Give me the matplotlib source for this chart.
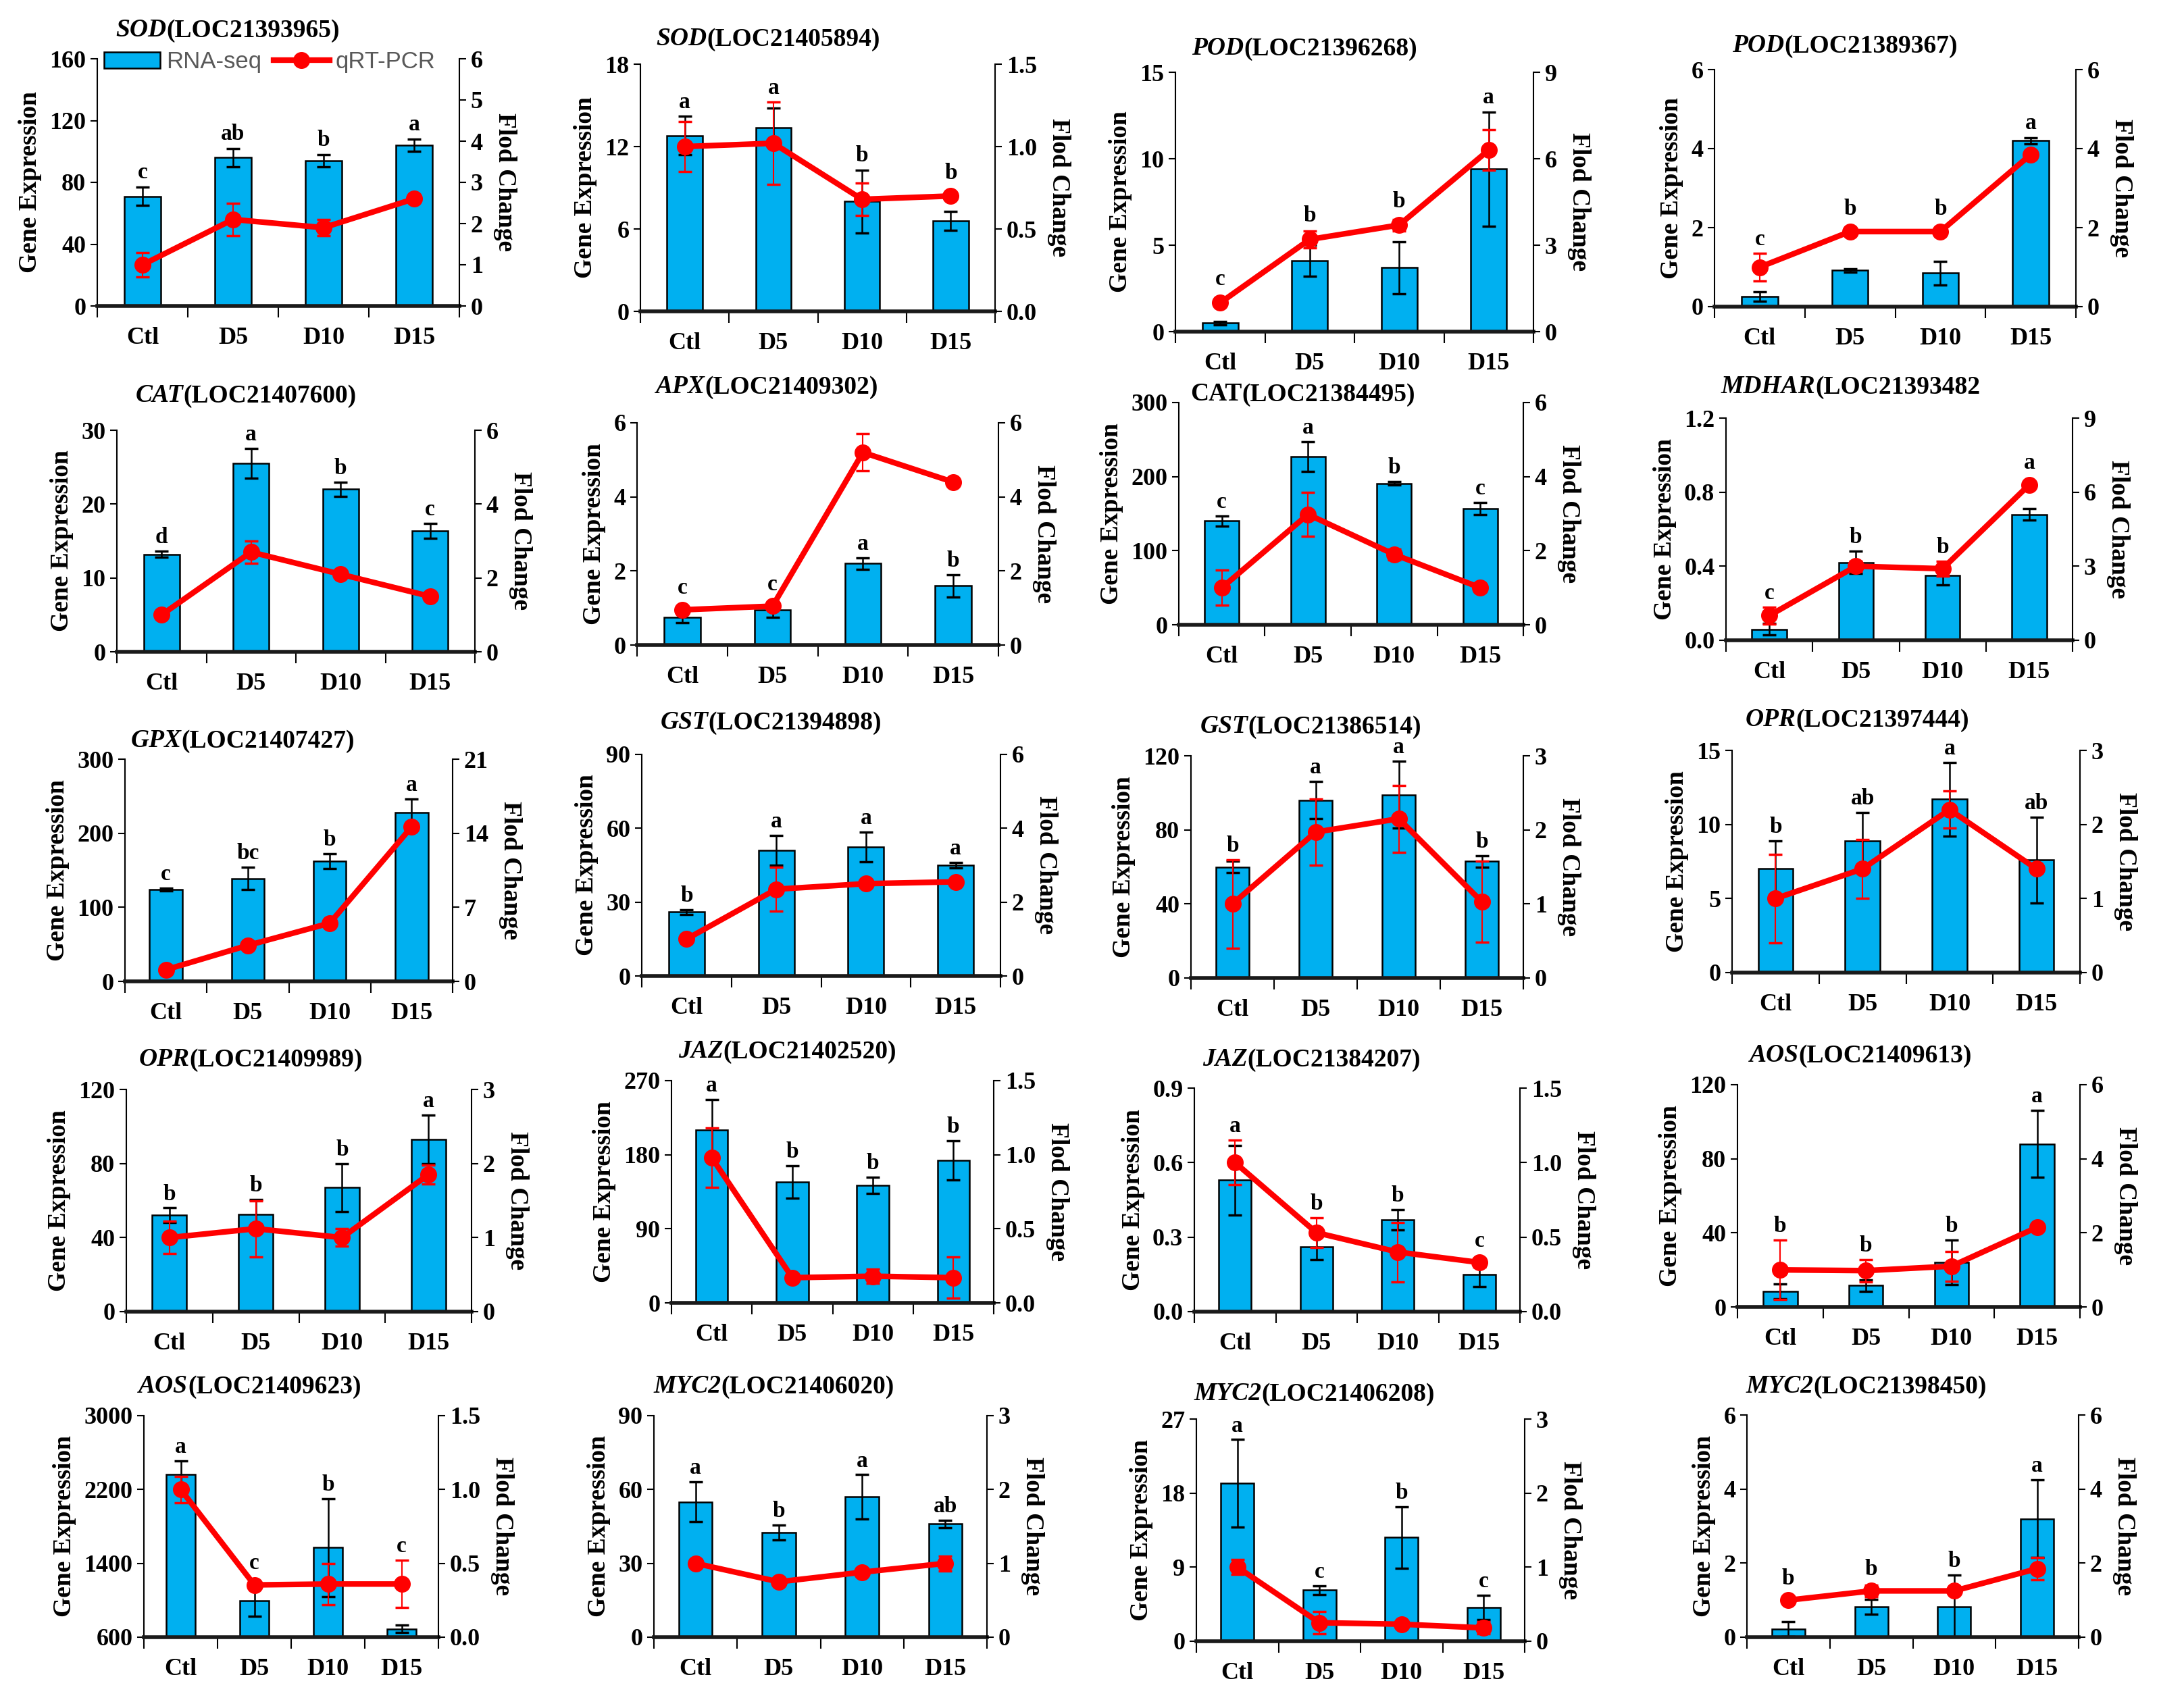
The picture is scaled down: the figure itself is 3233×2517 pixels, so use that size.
import numpy as np
import matplotlib.pyplot as plt
from matplotlib.patches import Patch
from matplotlib.lines import Line2D
from matplotlib.offsetbox import TextArea, HPacker, AnchoredOffsetbox

plt.rcParams['font.family'] = ['Liberation Serif', 'DejaVu Serif']
plt.rcParams['font.weight'] = 'bold'

groups = ['Ctl', 'D5', 'D10', 'D15']

genes = ['SOD', 'SOD', 'POD', 'POD',
         'CAT', 'APX', 'CAT', 'MDHAR',
         'GPX', 'GST', 'GST', 'OPR',
         'OPR', 'JAZ', 'JAZ', 'AOS',
         'AOS', 'MYC2', 'MYC2', 'MYC2']
locs = ['(LOC21393965)', '(LOC21405894)', '(LOC21396268)', '(LOC21389367)',
        '(LOC21407600)', '(LOC21409302)', '(LOC21384495)', '(LOC21393482',
        '(LOC21407427)', '(LOC21394898)', '(LOC21386514)', '(LOC21397444)',
        '(LOC21409989)', '(LOC21402520)', '(LOC21384207)', '(LOC21409613)',
        '(LOC21409623)', '(LOC21406020)', '(LOC21406208)', '(LOC21398450)']
gene_italic = [True] * 20
gene_italic[6] = False

left_min = [0] * 20
left_min[16] = 600
left_max = [160, 18, 15, 6, 30, 6, 300, 1.2, 300, 90, 120, 15,
            120, 270, 0.9, 120, 3000, 90, 27, 6]
left_step = [40, 6, 5, 2, 10, 2, 100, 0.4, 100, 30, 40, 5,
             40, 90, 0.3, 40, 800, 30, 9, 2]
left_dec = [0, 0, 0, 0, 0, 0, 0, 1, 0, 0, 0, 0,
            0, 0, 1, 0, 0, 0, 0, 0]
right_max = [6, 1.5, 9, 6, 6, 6, 6, 9, 21, 6, 3, 3,
             3, 1.5, 1.5, 6, 1.5, 3, 3, 6]
right_step = [1, 0.5, 3, 2, 2, 2, 2, 3, 7, 2, 1, 1,
              1, 0.5, 0.5, 2, 0.5, 1, 1, 2]
right_dec = [0, 1, 0, 0, 0, 0, 0, 0, 0, 0, 0, 0,
             0, 1, 1, 0, 1, 0, 0, 0]

rna_seq = [
    [71, 96, 94, 104], [12.8, 13.4, 8.0, 6.6], [0.5, 4.1, 3.7, 9.4], [0.25, 0.92, 0.85, 4.2],
    [13.2, 25.5, 22.0, 16.4], [0.75, 0.95, 2.2, 1.6], [140, 227, 191, 157], [0.06, 0.42, 0.35, 0.68],
    [124, 139, 162, 228], [26, 51, 52.5, 45], [60, 96, 99, 63], [7.0, 8.9, 11.7, 7.6],
    [52, 52.5, 67, 93], [210, 147, 143, 173], [0.53, 0.26, 0.37, 0.15], [8.5, 11.5, 24, 88],
    [2360, 995, 1570, 690], [55, 42.5, 57, 46], [19.2, 6.2, 12.6, 4.1], [0.22, 0.82, 0.82, 3.2],
]
rna_err = [
    [6, 6, 4, 4], [1.4, 1.4, 2.3, 0.7], [0.1, 0.9, 1.5, 3.3], [0.12, 0.04, 0.3, 0.08],
    [0.4, 2.0, 1.0, 1.0], [0.15, 0.2, 0.15, 0.3], [7, 20, 2, 8], [0.03, 0.06, 0.05, 0.03],
    [2, 15, 10, 18], [1, 6, 6, 1], [3, 10, 18, 3], [1.9, 1.9, 2.5, 2.9],
    [4, 8, 13, 13], [37, 20, 10, 24], [0.14, 0.05, 0.04, 0.05], [4, 3, 12, 18],
    [150, 170, 530, 40], [8, 3, 9, 1.5], [5.3, 0.5, 3.7, 1.5], [0.2, 0.2, 0.85, 1.05],
]
letters = [
    ['c', 'ab', 'b', 'a'], ['a', 'a', 'b', 'b'], ['c', 'b', 'b', 'a'], ['c', 'b', 'b', 'a'],
    ['d', 'a', 'b', 'c'], ['c', 'c', 'a', 'b'], ['c', 'a', 'b', 'c'], ['c', 'b', 'b', 'a'],
    ['c', 'bc', 'b', 'a'], ['b', 'a', 'a', 'a'], ['b', 'a', 'a', 'b'], ['b', 'ab', 'a', 'ab'],
    ['b', 'b', 'b', 'a'], ['a', 'b', 'b', 'b'], ['a', 'b', 'b', 'c'], ['b', 'b', 'b', 'a'],
    ['a', 'c', 'b', 'c'], ['a', 'b', 'a', 'ab'], ['a', 'c', 'b', 'c'], ['b', 'b', 'b', 'a'],
]
qpcr = [
    [1.0, 2.1, 1.9, 2.6], [1.0, 1.02, 0.68, 0.70], [1.0, 3.2, 3.7, 6.3], [1.0, 1.9, 1.9, 3.85],
    [1.0, 2.7, 2.1, 1.5], [0.95, 1.05, 5.2, 4.4], [1.0, 2.98, 1.9, 1.0], [1.0, 3.0, 2.9, 6.3],
    [1.1, 3.4, 5.5, 14.6], [1.0, 2.35, 2.5, 2.55], [1.0, 1.97, 2.15, 1.03], [1.0, 1.4, 2.2, 1.4],
    [1.0, 1.12, 1.0, 1.85], [0.98, 0.17, 0.18, 0.17], [1.0, 0.53, 0.4, 0.33], [1.0, 0.98, 1.1, 2.15],
    [1.0, 0.354, 0.36, 0.36], [1.0, 0.75, 0.88, 1.0], [1.0, 0.25, 0.23, 0.18], [1.0, 1.25, 1.25, 1.85],
]
qpcr_err = [
    [0.3, 0.4, 0.2, 0.05], [0.15, 0.25, 0.1, 0.02], [0.05, 0.3, 0.2, 0.7], [0.35, 0.02, 0.02, 0.1],
    [0.05, 0.3, 0.05, 0.05], [0.05, 0.05, 0.5, 0.05], [0.48, 0.6, 0.15, 0.1], [0.35, 0.2, 0.3, 0.1],
    [0.2, 0.2, 0.3, 0.3], [0.05, 0.6, 0.05, 0.05], [0.6, 0.45, 0.45, 0.55], [0.6, 0.4, 0.25, 0.05],
    [0.22, 0.38, 0.12, 0.13], [0.2, 0.02, 0.05, 0.14], [0.15, 0.1, 0.2, 0.03], [0.8, 0.3, 0.4, 0.05],
    [0.09, 0.02, 0.14, 0.16], [0.05, 0.05, 0.05, 0.1], [0.1, 0.15, 0.03, 0.08], [0.05, 0.15, 0.05, 0.3],
]

# axes boxes in pixels: left, top, right, bottom
boxes = [
    (144, 87, 680, 453), (948, 95, 1473, 461), (1740, 107, 2270, 491), (2538, 103, 3073, 454),
    (173, 637, 703, 965), (943, 626, 1478, 955), (1745, 596, 2255, 925), (2555, 619, 3068, 948),
    (185, 1124, 670, 1453), (950, 1117, 1481, 1445), (1763, 1119, 2255, 1448), (2564, 1111, 3079, 1440),
    (187, 1613, 698, 1942), (994, 1600, 1471, 1929), (1768, 1611, 2250, 1942), (2572, 1606, 3079, 1935),
    (213, 2096, 649, 2424), (968, 2096, 1461, 2424), (1771, 2101, 2257, 2430), (2586, 2095, 3077, 2424),
]
# distance (px) from axes top to the title centre
title_gap = [42, 37, 35, 35, 51, 53, 12, 46, 27, 47, 43, 45,
             44, 43, 42, 43, 43, 43, 37, 42]

W, H = 3233, 2517
fig = plt.figure(figsize=(W / 100, H / 100), dpi=100)

bar_color = '#00B0F0'
tick_fs = 26
x = np.arange(len(groups))

for i in range(20):
    l, t, r, b = boxes[i]
    ax = fig.add_axes([l / W, 1 - b / H, (r - l) / W, (b - t) / H])
    ax2 = ax.twinx()

    base = left_min[i]
    span = left_max[i] - base
    vals = np.array(rna_seq[i])
    errs = np.array(rna_err[i])
    fc = np.array(qpcr[i])
    fce = np.array(qpcr_err[i])
    ax.bar(x, vals - base, bottom=base, width=0.4, color=bar_color,
           edgecolor='black', linewidth=1.8, zorder=2)
    ax.errorbar(x, vals, yerr=errs, fmt='none', ecolor='black',
                elinewidth=1.8, capsize=7, capthick=2.5, zorder=3)

    # letters go above the bar's error bar, or above the red point when it sits close over it
    scale = span / right_max[i]
    line_top = np.maximum(base + fc * scale + 0.035 * span, base + (fc + fce) * scale)
    for xi, v, e, lt_, s in zip(x, vals, errs, line_top, letters[i]):
        top = v + e
        if lt_ > top and lt_ - top < 0.35 * span:
            top = lt_
        ax.text(xi, top + span * 0.015, s, ha='center', va='bottom',
                fontsize=24, fontweight='bold')

    ax2.errorbar(x, fc, yerr=fce, fmt='none', ecolor='red',
                 elinewidth=1.5, capsize=7, capthick=2.5, zorder=3)
    ax2.plot(x, fc, color='red', linewidth=6, marker='o',
             markersize=17, zorder=4)

    ax.set_xlim(-0.5, 3.5)
    ax.set_ylim(base, left_max[i])
    ax2.set_ylim(0, right_max[i])

    lt = np.arange(base, left_max[i] + left_step[i] / 2, left_step[i])
    ax.set_yticks(lt)
    ax.set_yticklabels([f'{v:.{left_dec[i]}f}' for v in lt])
    rt = np.arange(0, right_max[i] + right_step[i] / 2, right_step[i])
    ax2.set_yticks(rt)
    ax2.set_yticklabels([f'{v:.{right_dec[i]}f}' for v in rt])

    ax.set_xticks(np.arange(-0.5, 4, 1))
    ax.set_xticklabels([])
    ax.set_xticks(x, minor=True)
    ax.set_xticklabels(groups, minor=True, fontsize=26, fontweight='bold')
    ax.tick_params(axis='x', which='major', direction='out', length=12, width=1.5)
    ax.tick_params(axis='x', which='minor', length=0, pad=22)
    ax.tick_params(axis='y', direction='out', length=7, width=1.5, labelsize=tick_fs, pad=5)
    ax2.tick_params(axis='y', direction='out', length=7, width=1.5, labelsize=tick_fs, pad=5)

    for sp in ['top', 'right']:
        ax.spines[sp].set_visible(False)
    for sp in ['top', 'left', 'bottom']:
        ax2.spines[sp].set_visible(False)
    ax.spines['left'].set_linewidth(1.5)
    ax2.spines['right'].set_linewidth(1.5)
    ax.spines['bottom'].set_linewidth(4)
    ax.spines['bottom'].set_color('#1a1a1a')
    ax.spines['bottom'].set_zorder(5)

    ax.set_ylabel('Gene Expression', fontsize=27, fontweight='bold', labelpad=8)
    ax2.set_ylabel('Flod Change', fontsize=27, fontweight='bold',
                   rotation=270, labelpad=36)

    gstyle = 'italic' if gene_italic[i] else 'normal'
    title = HPacker(children=[
        TextArea(genes[i], textprops=dict(fontsize=27, fontweight='bold', fontstyle=gstyle)),
        TextArea(locs[i], textprops=dict(fontsize=27, fontweight='bold')),
    ], align='baseline', pad=0, sep=0)
    anchored = AnchoredOffsetbox(loc='center', child=title, pad=0, frameon=False,
                                 bbox_to_anchor=(0.36, 1 + title_gap[i] / (b - t)),
                                 bbox_transform=ax.transAxes, borderpad=0)
    ax.add_artist(anchored)

    if i == 0:
        handles = [Patch(facecolor=bar_color, edgecolor='black', linewidth=1.8),
                   Line2D([0], [0], color='red', linewidth=6, marker='o', markersize=17)]
        leg = ax.legend(handles, ['RNA-seq', 'qRT-PCR'], loc='upper left',
                        bbox_to_anchor=(-0.02, 1.09), ncol=2, frameon=False,
                        handlelength=2.4, handletextpad=0.25, columnspacing=0.5,
                        borderaxespad=0.2,
                        prop={'family': 'Liberation Sans', 'size': 25, 'weight': 'normal'})
        for txt in leg.get_texts():
            txt.set_color('#595959')

fig.savefig('out.png', dpi=100)
